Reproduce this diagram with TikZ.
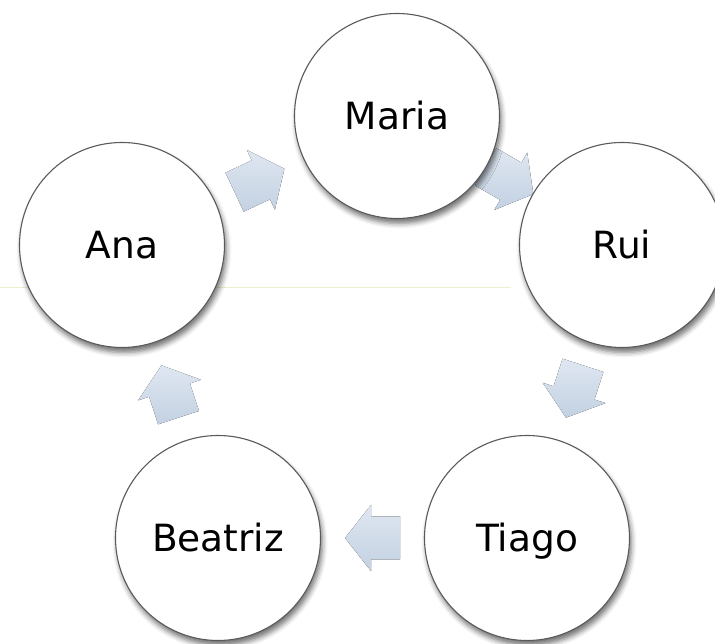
\documentclass[tikz,border=0pt]{standalone}
\usepackage{fontspec}
\setmainfont{DejaVu Sans}
\usetikzlibrary{calc,shadows.blur,backgrounds}
\definecolor{arrtop}{HTML}{DFE7F1}
\definecolor{arrbot}{HTML}{C3D1E2}
\definecolor{ringc}{HTML}{5A5A5A}
\definecolor{linec}{HTML}{EEEED0}
\tikzset{
  person/.style={circle, draw=ringc, line width=1.1pt, fill=white,
    minimum size=205pt, inner sep=0pt, text height=28pt, text depth=0pt,
    font=\fontsize{37.5}{40}\selectfont,
    blur shadow={shadow xshift=2pt, shadow yshift=-5pt, shadow blur radius=5pt, shadow opacity=55}},
  blockarr/.style={top color=arrtop, bottom color=arrbot, draw=none},
  faintline/.style={draw=linec, line width=0.8pt},
}
\newcommand{\cyclearrow}[2]{%
  \path (#1) -- (#2) coordinate[pos=0.5] (am);
  \coordinate (atip) at ($(am)!27.5pt!(#2)$);
  \coordinate (ahb) at ($(am)!1.5pt!(#2)$);
  \coordinate (atl) at ($(am)!27.5pt!(#1)$);
  \fill[blockarr] (atip) -- ($(ahb)!33pt!90:(#2)$) -- ($(ahb)!21.5pt!90:(#2)$)
    -- ($(atl)!21.5pt!90:(#2)$) -- ($(atl)!21.5pt!-90:(#2)$)
    -- ($(ahb)!21.5pt!-90:(#2)$) -- ($(ahb)!33pt!-90:(#2)$) -- cycle;
}
\begin{document}
\begin{tikzpicture}[x=1pt,y=1pt]
\useasboundingbox (0,0) rectangle (715,644);
\node[person] (maria) at (397,528) {Maria};
\node[person] (rui) at (622,399) {Rui};
\node[person] (tiago) at (527,106) {Tiago};
\node[person] (beatriz) at (218,106) {Beatriz};
\node[person] (ana) at (122,399) {Ana};
\begin{pgfonlayer}{background}
  \coordinate (lnA) at (0,357);
  \coordinate (lnB) at (511,357);
  \draw[faintline] (lnA) -- (lnB);
  \cyclearrow{ana.center}{maria.center}
  \cyclearrow{maria.center}{rui.center}
  \cyclearrow{rui.center}{tiago.center}
  \cyclearrow{tiago.center}{beatriz.center}
  \cyclearrow{beatriz.center}{ana.center}
\end{pgfonlayer}
\end{tikzpicture}
\end{document}
